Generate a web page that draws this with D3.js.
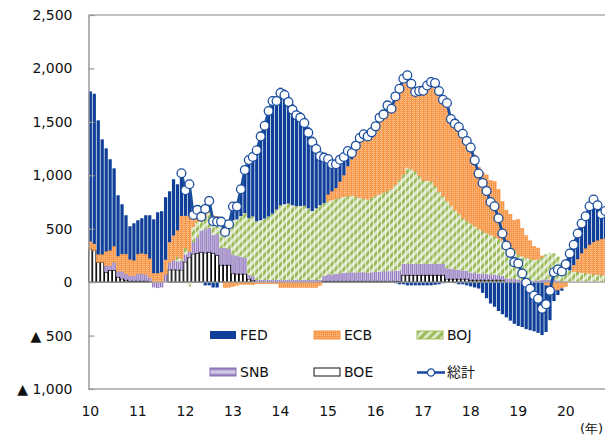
<!DOCTYPE html>
<html>
<head>
<meta charset="utf-8">
<script src="https://cdn.jsdelivr.net/npm/d3@7"></script>
<style>
body { margin: 0; background: #fff; }
svg { display: block; font-family: "DejaVu Sans", Verdana, sans-serif; }
</style>
</head>
<body>
<svg></svg>
<script>
// monthly, Jan 2010 - Nov 2020 (year-on-year change, bn)
var BOE = [312,296,187,187,93,109,109,47,31,20,
  10,10,10,10,10,5,0,0,0,0,
  116,116,115,115,190,230,265,270,280,275,
  280,270,250,160,160,160,80,77,77,77,
  30,15,0,0,0,0,0,0,0,0,
  0,0,0,0,0,0,0,0,0,8,
  8,8,8,8,8,8,8,8,8,8,
  8,8,8,8,8,8,8,8,8,65,
  65,65,65,65,65,65,65,65,65,65,
  30,30,30,30,30,30,20,20,20,20,
  20,20,20,20,20,0,0,0,0,0,
  0,0,0,0,0,0,0,0,0,0,
  0,0,0,0,0,0,0,0,0,0,0];
var SNB = [0,0,0,0,63,47,78,56,72,58,
  52,52,68,68,62,42,-50,-55,-50,75,
  71,90,80,85,70,60,110,150,200,220,
  230,170,200,160,160,150,180,170,160,150,
  40,40,20,20,20,20,20,20,20,20,
  20,20,20,20,20,20,20,20,20,50,
  60,65,70,75,80,80,85,80,85,85,
  80,85,90,90,95,95,95,100,100,105,
  105,105,105,105,105,105,105,105,105,105,
  100,95,90,85,80,75,70,65,60,60,
  55,50,50,45,40,35,30,30,25,20,
  20,15,15,15,20,25,25,20,15,10,
  5,5,5,5,5,5,5,5,5,5,5];
var BOJ = [0,0,0,0,0,0,0,0,0,0,
  0,0,0,0,0,0,0,0,0,0,
  0,0,40,20,60,-40,145,150,90,120,
  140,100,100,246,200,280,320,340,380,420,
  530,560,550,560,575,595,620,660,700,710,
  715,700,690,692,695,670,645,670,700,682,
  692,697,702,707,712,717,717,712,697,692,
  687,697,712,727,737,752,772,807,852,840,
  905,890,870,830,786,780,775,730,680,635,
  630,595,556,525,490,470,461,440,420,400,
  385,375,357,345,330,325,303,270,235,225,
  210,205,195,200,215,235,250,250,225,170,
  115,105,95,90,85,80,75,70,65,63,60];
var ECB = [68,62,72,72,131,140,149,140,159,184,
  150,141,184,190,190,174,84,84,93,134,
  187,231,250,400,300,330,109,80,43,100,
  140,80,66,0,-50,-48,-40,-30,-20,-20,
  -20,-25,-15,-15,-15,-15,-15,-15,-50,-50,
  -50,-50,-50,-50,-50,-50,-50,-50,-30,0,
  60,80,100,150,200,280,340,430,559,598,
  589,612,648,714,730,799,748,833,870,913,
  890,827,769,818,866,920,957,988,958,912,
  916,806,817,831,809,776,748,665,576,548,
  543,505,513,458,365,313,301,277,325,256,
  204,167,125,104,10,-30,-60,-70,-75,-60,
  -40,0,60,120,180,230,270,300,320,335,345];
var FED = [1405,1405,1255,1077,965,854,729,570,467,364,
  311,348,317,330,364,405,504,570,571,586,
  476,526,431,399,240,336,0,26,0,-30,
  -30,-50,-50,0,0,0,167,150,272,423,
  563,581,679,799,884,1001,1070,1030,1100,1071,
  1000,944,901,877,824,759,697,606,488,425,
  332,253,223,206,171,142,59,47,0,0,
  0,0,0,0,0,0,0,-10,-20,-20,
  -30,-30,-30,-30,-30,-30,-30,-25,-20,-10,
  0,0,-10,-20,-20,-30,-40,-50,-60,-100,
  -150,-200,-230,-270,-300,-330,-360,-390,-410,-420,
  -440,-450,-460,-475,-495,-436,-296,-107,-46,-20,
  88,158,189,240,279,302,360,398,330,233,256];
var total = [null,null,null,null,null,null,null,null,null,null,
  null,null,null,null,null,null,null,null,null,null,
  null,null,null,1019,860,916,629,676,613,685,
  760,570,566,566,470,542,707,707,869,1050,
  1143,1171,1234,1364,1464,1601,1695,1695,1770,1751,
  1685,1614,1561,1539,1489,1399,1312,1246,1178,1165,
  1152,1103,1103,1146,1171,1227,1209,1277,1349,1383,
  1364,1402,1458,1539,1570,1654,1623,1738,1810,1903,
  1935,1857,1779,1788,1792,1840,1872,1863,1788,1707,
  1676,1526,1483,1451,1389,1321,1259,1140,1016,928,
  853,750,710,598,455,343,274,187,175,81,
  -6,-63,-125,-156,-250,-206,-81,93,119,100,
  168,268,349,455,549,617,710,773,720,636,666];

var yearLabels = ["10","11","12","13","14","15","16","17","18","19","20"];
var yTicks = [-1000,-500,0,500,1000,1500,2000,2500];
var keys = ["BOE","SNB","BOJ","ECB","FED"];

var screen = {width: 605, height: 435};
var plot = {left: 88.5, top: 15, bottom: 389, step: 3.96};

var months = d3.range(FED.length);
var rows = months.map(function(i){
  return {i: i, BOE: BOE[i], SNB: SNB[i], BOJ: BOJ[i], ECB: ECB[i], FED: FED[i]};
});

var svg = d3.select("svg")
  .attr("width", screen.width)
  .attr("height", screen.height);

// fills
var defs = svg.append("defs");
var ecb = defs.append("pattern").attr("id","ecbFill")
  .attr("width",2).attr("height",2).attr("patternUnits","userSpaceOnUse");
ecb.append("rect").attr("width",2).attr("height",2).attr("fill","#f79646");
ecb.append("rect").attr("width",1).attr("height",1).attr("fill","#fcc89b");
var boj = defs.append("pattern").attr("id","bojFill")
  .attr("width",6).attr("height",6).attr("patternUnits","userSpaceOnUse")
  .attr("patternTransform","rotate(45)");
boj.append("rect").attr("width",6).attr("height",6).attr("fill","#dde8c8");
boj.append("rect").attr("width",3).attr("height",6).attr("fill","#9bbb59");
var snb = defs.append("linearGradient").attr("id","snbFill")
  .attr("x1",0).attr("y1",0).attr("x2",1).attr("y2",0);
snb.append("stop").attr("offset","0").attr("stop-color","#7658a8");
snb.append("stop").attr("offset","0.5").attr("stop-color","#c9bde6");
snb.append("stop").attr("offset","1").attr("stop-color","#7658a8");
var snbL = defs.append("linearGradient").attr("id","snbLeg")
  .attr("x1",0).attr("y1",0).attr("x2",0).attr("y2",1);
snbL.append("stop").attr("offset","0").attr("stop-color","#8569b3");
snbL.append("stop").attr("offset","0.5").attr("stop-color","#ddd6f0");
snbL.append("stop").attr("offset","1").attr("stop-color","#8569b3");

var style = {
  FED: {fill: "#0f3f98", stroke: "none"},
  ECB: {fill: "url(#ecbFill)", stroke: "#f79646"},
  BOJ: {fill: "url(#bojFill)", stroke: "none"},
  SNB: {fill: "url(#snbFill)", stroke: "none"},
  BOE: {fill: "#ffffff", stroke: "#000"}
};

var xScale = d3.scaleBand()
  .domain(months)
  .range([plot.left, plot.left + plot.step * months.length])
  .paddingInner(0.18)
  .paddingOuter(0.05);

var yScale = d3.scaleLinear()
  .domain([-1000, 2500])
  .range([plot.bottom, plot.top]);

var series = d3.stack()
  .keys(keys)
  .offset(d3.stackOffsetDiverging)(rows);

// bars
svg.append("g").selectAll("g")
  .data(series)
  .enter()
  .append("g")
  .attr("fill", function(s){return style[s.key].fill})
  .attr("stroke", function(s){return style[s.key].stroke})
  .attr("stroke-width", function(s){return s.key == "BOE" ? 1 : 0.6})
  .selectAll("rect")
  .data(function(s){return s.filter(function(d){return d[1] != d[0]})})
  .enter()
  .append("rect")
  .attr("x", function(d){return xScale(d.data.i)})
  .attr("width", xScale.bandwidth())
  .attr("y", function(d){return yScale(Math.max(d[0], d[1]))})
  .attr("height", function(d){return Math.abs(yScale(d[0]) - yScale(d[1]))});

// frame
svg.append("line")
  .attr("x1", plot.left).attr("x2", screen.width)
  .attr("y1", plot.top).attr("y2", plot.top)
  .attr("stroke", "#c0c0c0").attr("stroke-width", 2);
svg.append("line")
  .attr("x1", plot.left).attr("x2", screen.width)
  .attr("y1", yScale(0)).attr("y2", yScale(0))
  .attr("stroke", "#a6a6a6").attr("stroke-width", 1.2);
svg.append("line")
  .attr("x1", plot.left).attr("x2", screen.width)
  .attr("y1", plot.bottom).attr("y2", plot.bottom)
  .attr("stroke", "#a6a6a6").attr("stroke-width", 1.5);

var yAxis = d3.axisLeft(yScale)
  .tickValues(yTicks)
  .tickSizeInner(-6)
  .tickSizeOuter(0)
  .tickPadding(16)
  .tickFormat(function(v){
    return v < 0 ? "\u25B2 " + d3.format(",")(-v) : d3.format(",")(v);
  });
var ya = svg.append("g")
  .attr("transform", "translate(" + plot.left + ",0)")
  .call(yAxis);
ya.select(".domain").attr("stroke", "#999").attr("stroke-width", 1.5);
ya.selectAll(".tick line").attr("stroke", "#999").attr("stroke-width", 1.2);
ya.selectAll("text").attr("font-size", 14).attr("fill", "#111")
  .attr("font-family", "DejaVu Sans, Verdana, sans-serif");

// year labels
svg.append("g").selectAll("text")
  .data(yearLabels)
  .enter()
  .append("text")
  .attr("x", function(d, i){return xScale(i * 12) + xScale.bandwidth() / 2})
  .attr("y", 416)
  .attr("text-anchor", "middle")
  .attr("font-size", 14)
  .attr("fill", "#111")
  .text(function(d){return d});
svg.append("text")
  .attr("x", 580).attr("y", 433)
  .attr("font-size", 13).attr("fill", "#111")
  .text("(年)");

// total line
var cx = function(d, i){return xScale(i) + xScale.bandwidth() / 2};
var line = d3.line()
  .defined(function(d){return d != null})
  .x(cx)
  .y(function(d){return yScale(d)});
svg.append("path")
  .datum(total)
  .attr("d", line)
  .attr("fill", "none")
  .attr("stroke", "#1c4ea0")
  .attr("stroke-width", 2.8);
svg.append("g").selectAll("circle")
  .data(months.filter(function(i){return total[i] != null}))
  .enter()
  .append("circle")
  .attr("cx", function(i){return cx(null, i)})
  .attr("cy", function(i){return yScale(total[i])})
  .attr("r", 4.4)
  .attr("fill", "#fff")
  .attr("stroke", "#1c4ea0")
  .attr("stroke-width", 1.3);

// legend
var legend = [
  {name: "FED", x: 210, y: 331, type: "FED"},
  {name: "ECB", x: 314, y: 331, type: "ECB"},
  {name: "BOJ", x: 417, y: 331, type: "BOJ"},
  {name: "SNB", x: 210, y: 368, type: "SNB"},
  {name: "BOE", x: 314, y: 368, type: "BOE"},
  {name: "総計", x: 417, y: 368, type: "total"}
];
var lg = svg.append("g").selectAll("g")
  .data(legend)
  .enter()
  .append("g")
  .attr("transform", function(d){return "translate(" + d.x + "," + d.y + ")"});
lg.filter(function(d){return d.type != "total"})
  .append("rect")
  .attr("width", 26).attr("height", 8)
  .attr("fill", function(d){return d.type == "SNB" ? "url(#snbLeg)" : style[d.type].fill})
  .attr("stroke", function(d){
    return d.type == "BOE" ? "#111" : d.type == "SNB" ? "#8a70b8" : d.type == "BOJ" ? "#9fbf5e" : style[d.type].stroke;
  })
  .attr("stroke-width", 1);
var tl = lg.filter(function(d){return d.type == "total"});
tl.append("line").attr("x1", 0).attr("x2", 28).attr("y1", 4.5).attr("y2", 4.5)
  .attr("stroke", "#1c4ea0").attr("stroke-width", 2.6);
tl.append("circle").attr("cx", 14).attr("cy", 4.5).attr("r", 3.6)
  .attr("fill", "#fff").attr("stroke", "#1c4ea0").attr("stroke-width", 1.3);
lg.append("text")
  .attr("x", 30)
  .attr("y", 9)
  .attr("font-size", 14)
  .attr("fill", "#111")
  .attr("font-family", function(d){return d.type == "total" ? "Noto Sans CJK JP, sans-serif" : null})
  .text(function(d){return d.name});
</script>
</body>
</html>
